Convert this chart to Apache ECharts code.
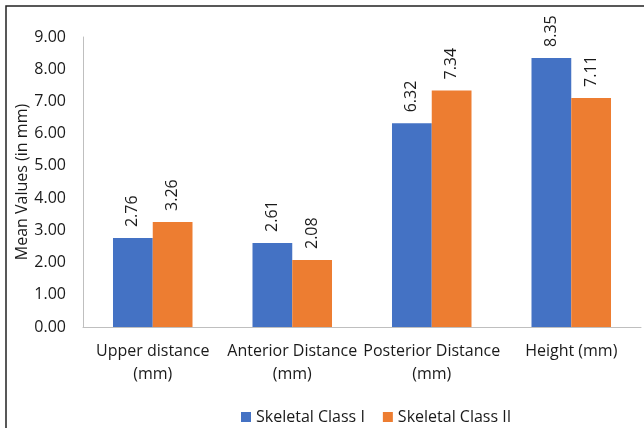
<!DOCTYPE html>
<html>
<head>
<meta charset="utf-8">
<script src="https://cdn.jsdelivr.net/npm/echarts@6/dist/echarts.min.js"></script>
<style>
html,body{margin:0;padding:0;background:#fff;}
#c{width:644px;height:428px;}
</style>
</head>
<body>
<div id="c"></div>
<script>
var categories = ["Upper distance\n(mm)", "Anterior Distance\n(mm)", "Posterior Distance\n(mm)", "Height (mm)"];
var classI = [2.76, 2.61, 6.32, 8.35];
var classII = [3.26, 2.08, 7.34, 7.11];
var seriesNames = ["Skeletal Class I", "Skeletal Class II"];
var yTicks = {min: 0, max: 9, interval: 1};

var FONT = "Open Sans";
var TXT = '#1a1a1a';
var chart = echarts.init(document.getElementById('c'), null, {renderer: 'canvas'});
var labelCfg = {
  show: true,
  position: 'top',
  rotate: 90,
  align: 'left',
  verticalAlign: 'middle',
  distance: 11,
  fontFamily: FONT,
  fontSize: 16,
  color: TXT,
  formatter: function(p){ return p.value.toFixed(2); }
};
chart.setOption({
  animation: false,
  backgroundColor: '#fff',
  textStyle: {fontFamily: FONT},
  graphic: [{
    type: 'rect',
    shape: {x: 6, y: 6, width: 800, height: 600},
    style: {fill: 'none', stroke: '#222', lineWidth: 1.5},
    silent: true,
    z: 100
  }],
  grid: {left: 83, right: 3, top: 37, bottom: 101, containLabel: false},
  legend: {
    data: seriesNames,
    left: 236,
    top: 404,
    itemWidth: 10,
    itemHeight: 10,
    itemGap: 18,
    icon: 'rect',
    textStyle: {fontFamily: FONT, fontSize: 16, color: TXT}
  },
  xAxis: {
    type: 'category',
    data: categories,
    axisLine: {show: true, lineStyle: {color: '#BFBFBF', width: 1}},
    axisTick: {show: false},
    axisLabel: {
      interval: 0,
      margin: 13,
      fontFamily: FONT,
      fontSize: 16,
      color: TXT,
      lineHeight: 23
    }
  },
  yAxis: {
    type: 'value',
    min: yTicks.min,
    max: yTicks.max,
    interval: yTicks.interval,
    name: 'Mean Values (in mm)',
    nameLocation: 'middle',
    nameGap: 53,
    nameRotate: 90,
    nameMoveOverlap: false,
    nameTextStyle: {fontFamily: FONT, fontSize: 16, color: TXT},
    axisLine: {show: true, lineStyle: {color: '#BFBFBF', width: 1}},
    axisTick: {show: false},
    splitLine: {show: false},
    axisLabel: {
      margin: 17,
      fontFamily: FONT,
      fontSize: 16,
      color: TXT,
      formatter: function(v){ return v.toFixed(2); }
    }
  },
  series: [{
    name: seriesNames[0],
    type: 'bar',
    data: classI,
    barGap: '0%',
    barCategoryGap: '43%',
    itemStyle: {color: '#4472C4'},
    label: labelCfg
  }, {
    name: seriesNames[1],
    type: 'bar',
    data: classII,
    barGap: '0%',
    barCategoryGap: '43%',
    itemStyle: {color: '#ED7D31'},
    label: labelCfg
  }]
});
</script>
</body>
</html>
